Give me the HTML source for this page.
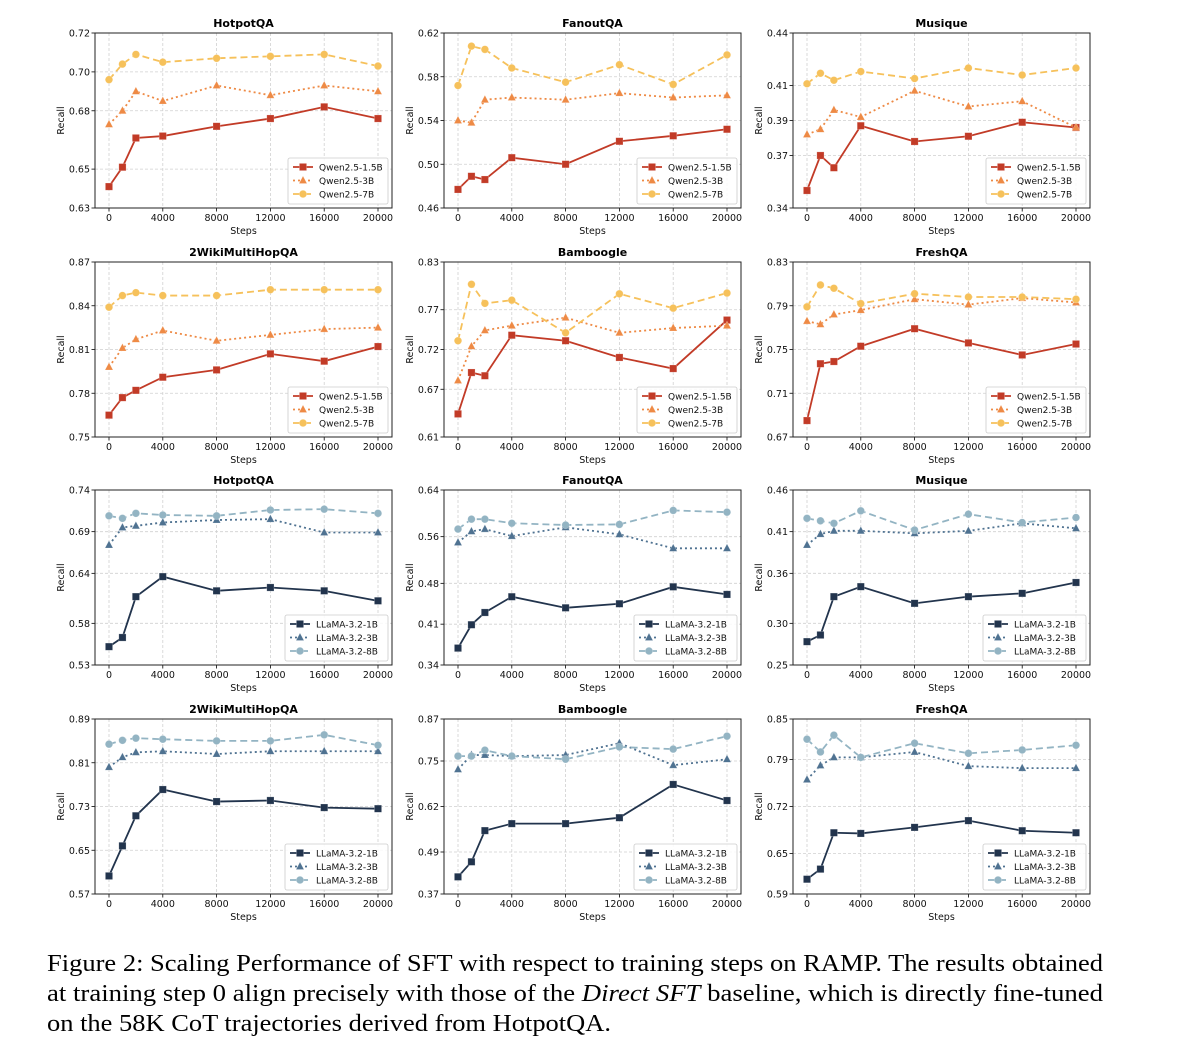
<!DOCTYPE html>
<html><head><meta charset="utf-8"><style>
html,body{margin:0;padding:0;background:#fff;}
svg{display:block;}
text{font-family:"DejaVu Sans","Liberation Sans",sans-serif;}
</style></head><body>
<svg id="fig" width="1178" height="1062" viewBox="0 0 1178 1062" xmlns="http://www.w3.org/2000/svg">
<g id="plots"></g>
<text x="47" y="971" font-size="24.5" style="font-family:'Liberation Serif',serif" textLength="1056" lengthAdjust="spacingAndGlyphs">Figure 2: Scaling Performance of SFT with respect to training steps on RAMP. The results obtained</text>
<text x="47" y="1001" font-size="24.5" style="font-family:'Liberation Serif',serif" textLength="1056" lengthAdjust="spacingAndGlyphs">at training step 0 align precisely with those of the <tspan font-style="italic">Direct SFT</tspan> baseline, which is directly fine-tuned</text>
<text x="47" y="1031" font-size="24.5" style="font-family:'Liberation Serif',serif" textLength="564" lengthAdjust="spacingAndGlyphs">on the 58K CoT trajectories derived from HotpotQA.</text>
</svg>
<script>
const steps=[0,1000,2000,4000,8000,12000,16000,20000];
const xTicks=[0,4000,8000,12000,16000,20000];
const qwenNames=["Qwen2.5-1.5B","Qwen2.5-3B","Qwen2.5-7B"];
const llamaNames=["LLaMA-3.2-1B","LLaMA-3.2-3B","LLaMA-3.2-8B"];
const titles=["HotpotQA","FanoutQA","Musique","2WikiMultiHopQA","Bamboogle","FreshQA","HotpotQA","FanoutQA","Musique","2WikiMultiHopQA","Bamboogle","FreshQA"];
const yMin=[0.63,0.46,0.34,0.75,0.61,0.67,0.53,0.34,0.25,0.57,0.37,0.59];
const yMax=[0.72,0.62,0.44,0.87,0.83,0.83,0.74,0.64,0.46,0.89,0.87,0.85];
const yTickLabels=[
["0.63","0.65","0.68","0.70","0.72"],["0.46","0.50","0.54","0.58","0.62"],["0.34","0.37","0.39","0.41","0.44"],
["0.75","0.78","0.81","0.84","0.87"],["0.61","0.67","0.72","0.77","0.83"],["0.67","0.71","0.75","0.79","0.83"],
["0.53","0.58","0.64","0.69","0.74"],["0.34","0.41","0.48","0.56","0.64"],["0.25","0.30","0.36","0.41","0.46"],
["0.57","0.65","0.73","0.81","0.89"],["0.37","0.49","0.62","0.75","0.87"],["0.59","0.65","0.72","0.79","0.85"]];
const seriesA=[
[0.641,0.651,0.666,0.667,0.672,0.676,0.682,0.676],
[0.477,0.489,0.486,0.506,0.500,0.521,0.526,0.532],
[0.350,0.370,0.363,0.387,0.378,0.381,0.389,0.386],
[0.765,0.777,0.782,0.791,0.796,0.807,0.802,0.812],
[0.639,0.691,0.687,0.738,0.731,0.710,0.696,0.757],
[0.685,0.737,0.739,0.753,0.769,0.756,0.745,0.755],
[0.552,0.563,0.612,0.636,0.619,0.623,0.619,0.607],
[0.369,0.409,0.430,0.457,0.438,0.445,0.474,0.461],
[0.278,0.286,0.332,0.344,0.324,0.332,0.336,0.349],
[0.603,0.658,0.713,0.761,0.739,0.741,0.728,0.726],
[0.419,0.462,0.551,0.571,0.571,0.588,0.683,0.637],
[0.612,0.627,0.681,0.680,0.689,0.699,0.684,0.681]];
const seriesB=[
[0.673,0.680,0.690,0.685,0.693,0.688,0.693,0.690],
[0.540,0.538,0.559,0.561,0.559,0.565,0.561,0.563],
[0.382,0.385,0.396,0.392,0.407,0.398,0.401,0.386],
[0.798,0.811,0.817,0.823,0.816,0.820,0.824,0.825],
[0.681,0.724,0.744,0.750,0.760,0.741,0.747,0.750],
[0.776,0.773,0.782,0.786,0.796,0.791,0.797,0.793],
[0.674,0.695,0.697,0.701,0.704,0.705,0.689,0.689],
[0.550,0.569,0.573,0.561,0.576,0.564,0.540,0.540],
[0.394,0.407,0.411,0.411,0.408,0.411,0.420,0.414],
[0.802,0.820,0.829,0.831,0.826,0.831,0.831,0.831],
[0.726,0.767,0.767,0.764,0.767,0.801,0.738,0.755],
[0.760,0.781,0.793,0.793,0.801,0.780,0.777,0.777]];
const seriesC=[
[0.696,0.704,0.709,0.705,0.707,0.708,0.709,0.703],
[0.572,0.608,0.605,0.588,0.575,0.591,0.573,0.600],
[0.411,0.417,0.413,0.418,0.414,0.420,0.416,0.420],
[0.839,0.847,0.849,0.847,0.847,0.851,0.851,0.851],
[0.731,0.802,0.778,0.782,0.741,0.790,0.772,0.791],
[0.789,0.809,0.806,0.792,0.801,0.798,0.798,0.796],
[0.709,0.706,0.712,0.710,0.709,0.716,0.717,0.712],
[0.573,0.590,0.590,0.583,0.580,0.581,0.605,0.602],
[0.426,0.423,0.420,0.435,0.412,0.431,0.421,0.427],
[0.844,0.851,0.855,0.853,0.850,0.850,0.861,0.842],
[0.764,0.764,0.781,0.764,0.755,0.790,0.784,0.821],
[0.820,0.801,0.826,0.793,0.814,0.799,0.804,0.811]];

const NS="http://www.w3.org/2000/svg";
const root=document.getElementById('plots');
function mk(tag,attrs,parent){const e=document.createElementNS(NS,tag);for(const k in attrs)e.setAttribute(k,attrs[k]);parent.appendChild(e);return e;}
const colL=[95,444,793], colW=297;
const rowT=[33,262,490,719], rowH=175;
const qwenColors=["#c23b27","#ee8a45","#f6c15b"];
const llamaColors=["#22344d","#4f7291","#93b4c3"];
const dashes=["none","2,3","7,4"];
const markers=["square","triangle","circle"];
function marker(g,type,x,y,c){
  let e;
  if(type==="square"){e=mk('rect',{x:x-3.6,y:y-3.6,width:7.2,height:7.2,fill:c,stroke:"#fff","stroke-opacity":0.35,"stroke-width":0.6},g);}
  else if(type==="triangle"){e=mk('polygon',{points:`${x},${y-4.5} ${x+4},${y+3} ${x-4},${y+3}`,fill:c,stroke:"#fff","stroke-opacity":0.35,"stroke-width":0.6},g);}
  else{e=mk('circle',{cx:x,cy:y,r:3.8,fill:c,stroke:"#fff","stroke-opacity":0.35,"stroke-width":0.6},g);}
  return e;
}
for(let p=0;p<12;p++){
  const r=Math.floor(p/3), c=p%3;
  const L=colL[c], T=rowT[r], R=L+colW, B=T+rowH;
  const x0=L+14, x1=R-14;
  const xs=v=>x0+(v-0)/(20000)*(x1-x0);
  const ys=v=>B-(v-yMin[p])/(yMax[p]-yMin[p])*rowH;
  const g=mk('g',{},root);
  
  
  xTicks.forEach(t=>{const ln=mk('line',{x1:xs(t),x2:xs(t),y1:T,y2:B,stroke:"#d0d0d0","stroke-width":0.8,"stroke-dasharray":"3,2"},g);
    });
  yTickLabels[p].forEach((lab)=>{const yy=ys(parseFloat(lab));
    const ln=mk('line',{x1:L,x2:R,y1:yy,y2:yy,stroke:"#d0d0d0","stroke-width":0.8,"stroke-dasharray":"3,2"},g);
    
    mk('line',{x1:L-3.5,x2:L,y1:yy,y2:yy,stroke:"#000","stroke-width":0.8},g);
    const t=mk('text',{x:L-5,y:yy+3.5,"font-size":9.5,"text-anchor":"end",fill:"#111"},g);t.textContent=lab;
    });
  xTicks.forEach(tv=>{mk('line',{x1:xs(tv),x2:xs(tv),y1:B,y2:B+3.5,stroke:"#000","stroke-width":0.8},g);
    const t=mk('text',{x:xs(tv),y:B+13,"font-size":9.5,"text-anchor":"middle",fill:"#111"},g);t.textContent=String(tv);
    });
  const fr=mk('rect',{x:L,y:T,width:colW,height:rowH,fill:"none",stroke:"#222","stroke-width":1},g);
  
  const tt=mk('text',{x:(L+R)/2,y:T-6,"font-size":11,"font-weight":"bold","text-anchor":"middle",fill:"#000"},g);tt.textContent=titles[p];
  
  const xl=mk('text',{x:(L+R)/2,y:B+26,"font-size":9.5,"text-anchor":"middle",fill:"#111"},g);xl.textContent="Steps";
  
  const yl=mk('text',{x:0,y:0,"font-size":9.5,"text-anchor":"middle",fill:"#111",transform:`translate(${L-31},${(T+B)/2}) rotate(-90)`},g);yl.textContent="Recall";
  
  const cols=r<2?qwenColors:llamaColors, names=r<2?qwenNames:llamaNames;
  [seriesA[p],seriesB[p],seriesC[p]].forEach((vals,si)=>{
    const pts=vals.map((v,i)=>xs(steps[i])+","+ys(v)).join(" ");
    const pl=mk('polyline',{points:pts,fill:"none",stroke:cols[si],"stroke-width":1.8,"stroke-dasharray":dashes[si]},g);
    
    vals.forEach((v,i)=>{const m=marker(g,markers[si],xs(steps[i]),ys(v),cols[si]);
      });
  });
  const lg=mk('g',{},g);
  const lw=r<2?100:103, lx=R-lw-4, ly=B-50;
  mk('rect',{x:lx,y:ly,width:lw,height:46,rx:2,fill:"#fff","fill-opacity":0.85,stroke:"#ccc","stroke-width":0.8},lg);
  names.forEach((n,si)=>{const yy=ly+9+si*13.5;
    mk('line',{x1:lx+5,x2:lx+25,y1:yy,y2:yy,stroke:cols[si],"stroke-width":1.8,"stroke-dasharray":dashes[si]},lg);
    marker(lg,markers[si],lx+15,yy,cols[si]);
    const t=mk('text',{x:lx+31,y:yy+3.5,"font-size":9,fill:"#111"},lg);t.textContent=n;
    });
}
</script>
</body></html>
